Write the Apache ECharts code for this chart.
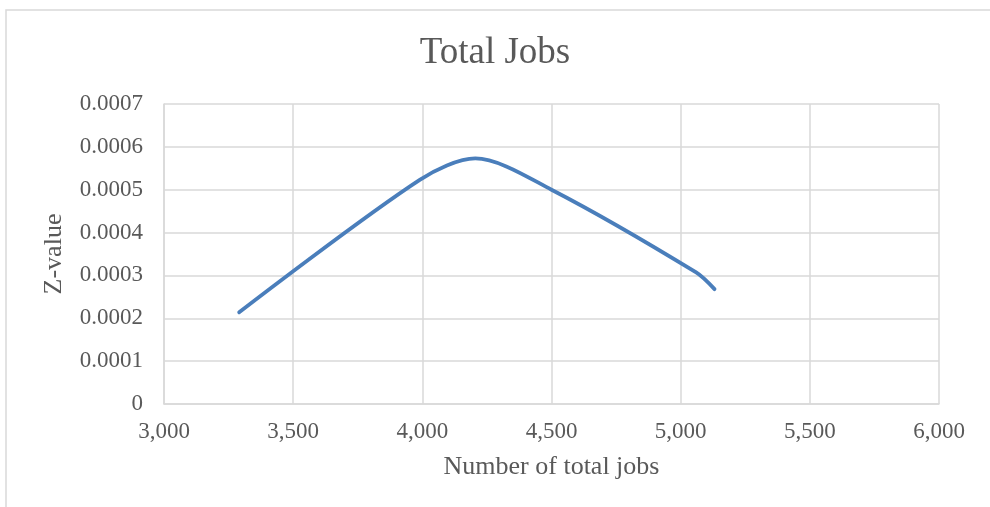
<!DOCTYPE html>
<html>
<head>
<meta charset="utf-8">
<script src="https://cdn.jsdelivr.net/npm/echarts@6/dist/echarts.min.js"></script>
<style>
html,body{margin:0;padding:0;background:#fff;}
#chart{width:990px;height:507px;}
</style>
</head>
<body>
<div id="chart"></div>
<script>
const titleText = 'Total Jobs';
const xAxisName = 'Number of total jobs';
const yAxisName = 'Z-value';
const jobs = [3291, 3990, 4205, 4500, 5060, 5131];
const zValues = [0.000214, 0.000523, 0.000573, 0.000500, 0.000307, 0.000268];

const font = '"Liberation Serif", "Times New Roman", serif';
const textColor = '#595959';
const chart = echarts.init(document.getElementById('chart'));
chart.setOption({
  animation: false,
  backgroundColor: '#fff',
  graphic: [{
    type: 'rect', silent: true, z: -1,
    shape: { x: 6, y: 10, width: 990, height: 520 },
    style: { fill: 'none', stroke: '#d9d9d9', lineWidth: 1.5 }
  }],
  title: {
    text: titleText, left: 'center', top: 30,
    textStyle: { fontFamily: font, fontSize: 37, fontWeight: 'normal', color: textColor }
  },
  grid: { left: 164, right: 51, top: 104, bottom: 103 },
  xAxis: {
    type: 'value', min: 3000, max: 6000, interval: 500,
    name: xAxisName, nameLocation: 'middle', nameGap: 50,
    nameTextStyle: { fontFamily: font, fontSize: 26, color: textColor },
    axisLine: { show: true, lineStyle: { color: '#d9d9d9', width: 1.5 } },
    axisTick: { show: false },
    splitLine: { show: true, lineStyle: { color: '#d9d9d9', width: 1.5 } },
    axisLabel: {
      fontFamily: font, fontSize: 23, color: textColor, margin: 16,
      formatter: v => v.toLocaleString('en-US')
    }
  },
  yAxis: {
    type: 'value', min: 0, max: 0.0007, interval: 0.0001,
    name: yAxisName, nameLocation: 'middle', nameGap: 97, nameRotate: 90,
    nameTextStyle: { fontFamily: font, fontSize: 26, color: textColor },
    axisLine: { show: true, lineStyle: { color: '#d9d9d9', width: 1.5 } },
    axisTick: { show: false },
    splitLine: { show: true, lineStyle: { color: '#d9d9d9', width: 1.5 } },
    axisLabel: {
      fontFamily: font, fontSize: 23, color: textColor, margin: 21,
      formatter: v => v === 0 ? '0' : v.toFixed(4)
    }
  },
  series: [{
    type: 'line',
    data: jobs.map((x, i) => [x, zValues[i]]),
    smooth: 0.3,
    showSymbol: false,
    lineStyle: { color: '#4A7EBB', width: 3.8, cap: 'round' },
    itemStyle: { color: '#4A7EBB' }
  }]
});
</script>
</body>
</html>
